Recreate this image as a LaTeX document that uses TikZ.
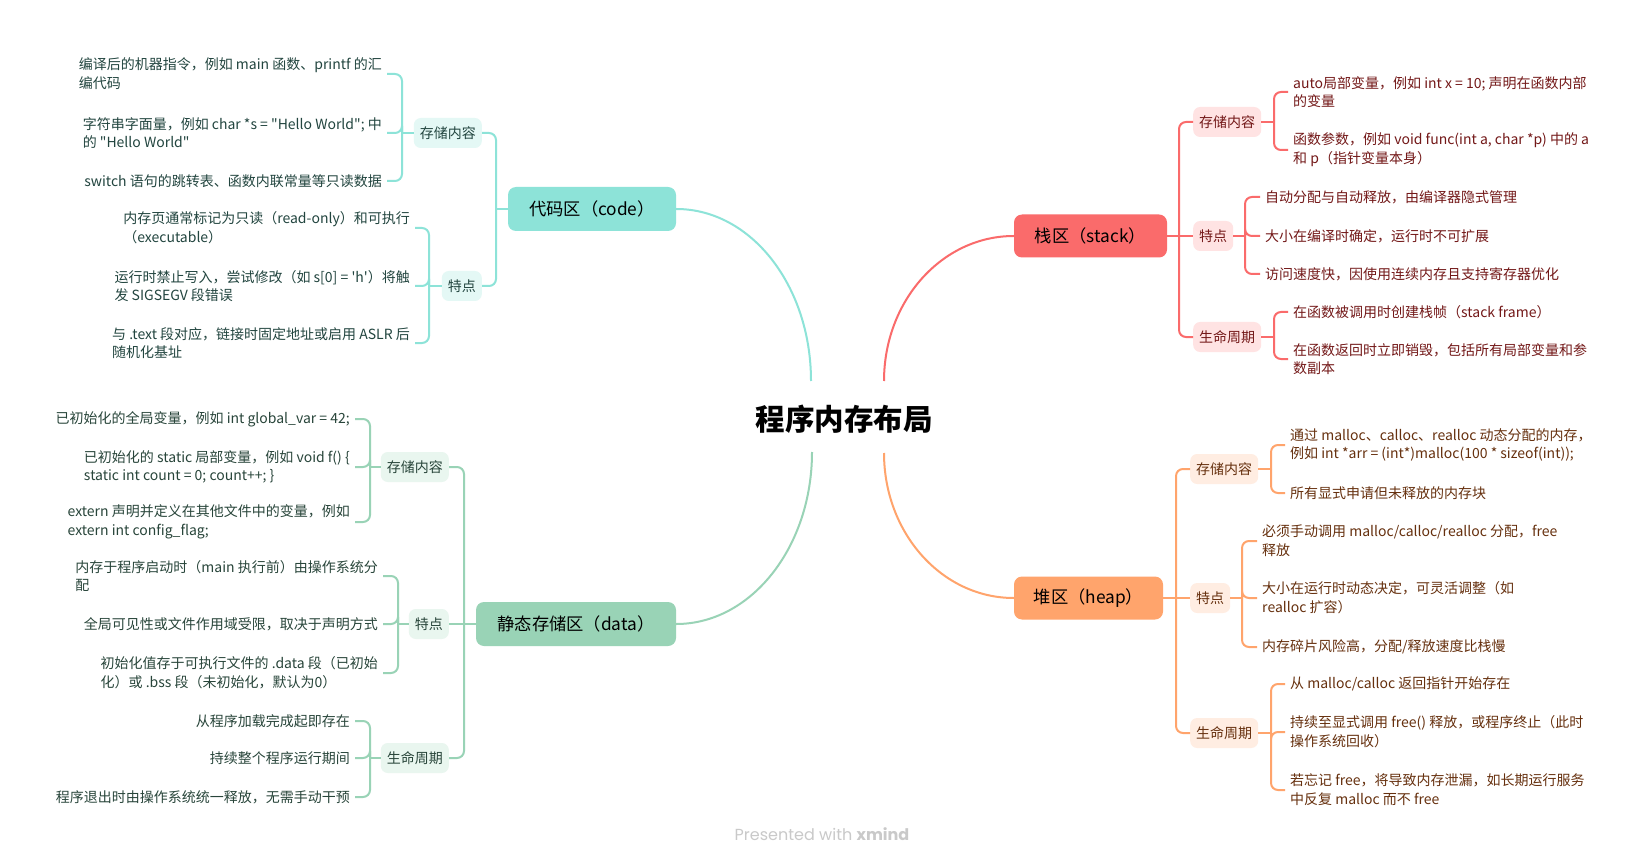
\documentclass[tikz,border=0pt]{standalone}
\usepackage{fontspec}
\newfontfamily\cjk{Noto Sans CJK SC}
\newfontfamily\wmfont{Poppins}
\definecolor{tealM}{HTML}{8DE3D8}
\definecolor{tealL}{HTML}{E4F8F5}
\definecolor{tealT}{HTML}{22453F}
\definecolor{grnM}{HTML}{99D3B6}
\definecolor{grnL}{HTML}{E9F6EF}
\definecolor{grnT}{HTML}{28453A}
\definecolor{redM}{HTML}{FA6B6B}
\definecolor{redL}{HTML}{FFE3E3}
\definecolor{redT}{HTML}{731818}
\definecolor{orgM}{HTML}{FFA46C}
\definecolor{orgL}{HTML}{FFEDE2}
\definecolor{orgT}{HTML}{66300E}
\definecolor{wmgray}{HTML}{C9C9C9}
\begin{document}
\begin{tikzpicture}[x=1pt,y=-1pt,
 conn/.style={draw=#1, line width=2pt},
 br/.style={draw=#1, line width=2pt, rounded corners=7pt},
 topic/.style={fill=#1, rounded corners=8pt, minimum height=44pt, inner sep=0pt, text=black, font=\fontsize{17.3}{20}\selectfont\cjk},
 sub/.style={fill=#1L, text=#1T, rounded corners=7pt, minimum height=30pt, inner xsep=6pt, inner ysep=0pt, font=\fontsize{14}{17}\selectfont\cjk},
 subL/.style={sub=#1, anchor=east},
 subR/.style={sub=#1, anchor=west},
 leaf/.style={text=#1T, align=left, inner xsep=5pt, inner ysep=1pt, font=\fontsize{14}{18.7}\selectfont\cjk},
 leafL/.style={leaf=#1, anchor=east},
 leafR/.style={leaf=#1, anchor=west},
]
\fill[white] (0,0) rectangle (1645,866);
\useasboundingbox (0,0) rectangle (1645,866);

% root
\node[font=\fontsize{29.5}{32}\selectfont\cjk\bfseries, text=black] (root) at (844,419) {程序内存布局};
\coordinate (rc1) at (811,381);
\coordinate (rc2) at (884,381);
\coordinate (rc3) at (812,452);
\coordinate (rc4) at (884,453);

% main topics
\node[topic=tealM, minimum width=168pt] (code) at (592,209) {代码区（code）};
\node[topic=grnM, minimum width=200pt] (data) at (576,624) {静态存储区（data）};
\node[topic=redM, minimum width=153pt, minimum height=43pt] (stack) at (1090.5,236) {栈区（stack）};
\node[topic=orgM, minimum width=149pt, minimum height=43pt] (heap) at (1088.5,598) {堆区（heap）};

\draw[conn=tealM] (code.east) .. controls +(75,0) and +(0,-95) .. (rc1);
\draw[conn=grnM] (data.east) .. controls +(75,0) and +(0,95) .. (rc3);
\draw[conn=redM] (stack.west) .. controls +(-72,0) and +(0,-80) .. (rc2);
\draw[conn=orgM] (heap.west) .. controls +(-72,0) and +(0,80) .. (rc4);

% ===== code branch =====
\coordinate (ct) at (496,209);
\coordinate (cb1) at (402,0);
\coordinate (cb2) at (429,0);
\node[subL=teal] (cs1) at (482,133) {存储内容};
\node[subL=teal] (cs2) at (482,286) {特点};
\node[leafL=teal] (cl11) at (387,74) {编译后的机器指令，例如 main 函数、printf 的汇\\编代码};
\node[leafL=teal] (cl12) at (387,133) {字符串字面量，例如 char *s = "Hello World"; 中\\的 "Hello World"};
\node[leafL=teal] (cl13) at (387,181) {switch 语句的跳转表、函数内联常量等只读数据};
\node[leafL=teal] (cl21) at (415,228) {内存页通常标记为只读（read-only）和可执行\\（executable）};
\node[leafL=teal] (cl22) at (415,286) {运行时禁止写入，尝试修改（如 s[0] = 'h'）将触\\发 SIGSEGV 段错误};
\node[leafL=teal] (cl23) at (415,343) {与 .text 段对应，链接时固定地址或启用 ASLR 后\\随机化基址};
\draw[conn=tealM] (code.west) -- (ct);
\draw[br=tealM] (ct) |- (cs1.east);
\draw[br=tealM] (ct) |- (cs2.east);
\draw[conn=tealM] (cs1.west) -- (cs1.west -| cb1);
\foreach \n in {cl11,cl12,cl13} \draw[br=tealM] (cs1.west -| cb1) |- (\n.east);
\draw[conn=tealM] (cs2.west) -- (cs2.west -| cb2);
\foreach \n in {cl21,cl22,cl23} \draw[br=tealM] (cs2.west -| cb2) |- (\n.east);

% ===== data branch =====
\coordinate (dt) at (464,624);
\coordinate (db1) at (370,0);
\coordinate (db2) at (398,0);
\node[subL=grn] (ds1) at (449,467) {存储内容};
\node[subL=grn] (ds2) at (449,624) {特点};
\node[subL=grn] (ds3) at (449,758) {生命周期};
\node[leafL=grn] (dl11) at (355,419) {已初始化的全局变量，例如 int global\_var = 42;};
\node[leafL=grn] (dl12) at (355,467) {已初始化的 static 局部变量，例如 void f() \{\\static int count = 0; count++; \}};
\node[leafL=grn] (dl13) at (355,522) {extern 声明并定义在其他文件中的变量，例如\\extern int config\_flag;};
\node[leafL=grn] (dl21) at (383,576) {内存于程序启动时（main 执行前）由操作系统分\\配};
\node[leafL=grn] (dl22) at (383,624) {全局可见性或文件作用域受限，取决于声明方式};
\node[leafL=grn] (dl23) at (383,673) {初始化值存于可执行文件的 .data 段（已初始\\化）或 .bss 段（未初始化，默认为0）};
\node[leafL=grn] (dl31) at (355,721) {从程序加载完成起即存在};
\node[leafL=grn] (dl32) at (355,758) {持续整个程序运行期间};
\node[leafL=grn] (dl33) at (355,797) {程序退出时由操作系统统一释放，无需手动干预};
\draw[conn=grnM] (data.west) -- (dt);
\draw[br=grnM] (dt) |- (ds1.east);
\draw[br=grnM] (dt) |- (ds3.east);
\draw[conn=grnM] (dt) -- (ds2.east);
\draw[conn=grnM] (ds1.west) -- (ds1.west -| db1);
\foreach \n in {dl11,dl12,dl13} \draw[br=grnM] (ds1.west -| db1) |- (\n.east);
\draw[conn=grnM] (ds2.west) -- (ds2.west -| db2);
\foreach \n in {dl21,dl22,dl23} \draw[br=grnM] (ds2.west -| db2) |- (\n.east);
\draw[conn=grnM] (ds3.west) -- (ds3.west -| db1);
\foreach \n in {dl31,dl32,dl33} \draw[br=grnM] (ds3.west -| db1) |- (\n.east);

% ===== stack branch =====
\coordinate (st) at (1179,236);
\coordinate (sb1) at (1274,0);
\coordinate (sb2) at (1245,0);
\node[subR=red] (ss1) at (1193,122) {存储内容};
\node[subR=red] (ss2) at (1193,236) {特点};
\node[subR=red] (ss3) at (1193,337) {生命周期};
\node[leafR=red] (sl11) at (1288,92) {auto局部变量，例如 int x = 10; 声明在函数内部\\的变量};
\node[leafR=red] (sl12) at (1288,150) {函数参数，例如 void func(int a, char *p) 中的 a\\和 p（指针变量本身）};
\node[leafR=red] (sl21) at (1260,197) {自动分配与自动释放，由编译器隐式管理};
\node[leafR=red] (sl22) at (1260,236) {大小在编译时确定，运行时不可扩展};
\node[leafR=red] (sl23) at (1260,274) {访问速度快，因使用连续内存且支持寄存器优化};
\node[leafR=red] (sl31) at (1288,312) {在函数被调用时创建栈帧（stack frame）};
\node[leafR=red] (sl32) at (1288,359) {在函数返回时立即销毁，包括所有局部变量和参\\数副本};
\draw[conn=redM] (stack.east) -- (st);
\draw[br=redM] (st) |- (ss1.west);
\draw[br=redM] (st) |- (ss3.west);
\draw[conn=redM] (st) -- (ss2.west);
\draw[conn=redM] (ss1.east) -- (ss1.east -| sb1);
\foreach \n in {sl11,sl12} \draw[br=redM] (ss1.east -| sb1) |- (\n.west);
\draw[conn=redM] (ss2.east) -- (ss2.east -| sb2);
\foreach \n in {sl21,sl22,sl23} \draw[br=redM] (ss2.east -| sb2) |- (\n.west);
\draw[conn=redM] (ss3.east) -- (ss3.east -| sb1);
\foreach \n in {sl31,sl32} \draw[br=redM] (ss3.east -| sb1) |- (\n.west);

% ===== heap branch =====
\coordinate (ht) at (1176,598);
\coordinate (hb1) at (1271,0);
\coordinate (hb2) at (1242,0);
\node[subR=org] (hs1) at (1190,469) {存储内容};
\node[subR=org] (hs2) at (1190,598) {特点};
\node[subR=org] (hs3) at (1190,733) {生命周期};
\node[leafR=org] (hl11) at (1285,445) {通过 malloc、calloc、realloc 动态分配的内存，\\例如 int *arr = (int*)malloc(100 * sizeof(int));};
\node[leafR=org] (hl12) at (1285,493) {所有显式申请但未释放的内存块};
\node[leafR=org] (hl21) at (1257,541) {必须手动调用 malloc/calloc/realloc 分配，free\\释放};
\node[leafR=org] (hl22) at (1257,598) {大小在运行时动态决定，可灵活调整（如\\realloc 扩容）};
\node[leafR=org] (hl23) at (1257,647) {内存碎片风险高，分配/释放速度比栈慢};
\node[leafR=org] (hl31) at (1285,684) {从 malloc/calloc 返回指针开始存在};
\node[leafR=org] (hl32) at (1285,732) {持续至显式调用 free() 释放，或程序终止（此时\\操作系统回收）};
\node[leafR=org] (hl33) at (1285,790) {若忘记 free，将导致内存泄漏，如长期运行服务\\中反复 malloc 而不 free};
\draw[conn=orgM] (heap.east) -- (ht);
\draw[br=orgM] (ht) |- (hs1.west);
\draw[br=orgM] (ht) |- (hs3.west);
\draw[conn=orgM] (ht) -- (hs2.west);
\draw[conn=orgM] (hs1.east) -- (hs1.east -| hb1);
\foreach \n in {hl11,hl12} \draw[br=orgM] (hs1.east -| hb1) |- (\n.west);
\draw[conn=orgM] (hs2.east) -- (hs2.east -| hb2);
\foreach \n in {hl21,hl22,hl23} \draw[br=orgM] (hs2.east -| hb2) |- (\n.west);
\draw[conn=orgM] (hs3.east) -- (hs3.east -| hb1);
\foreach \n in {hl31,hl32,hl33} \draw[br=orgM] (hs3.east -| hb1) |- (\n.west);

% watermark
\node[font=\fontsize{16}{18}\selectfont\wmfont, text=wmgray] (wm) at (822,834) {Presented with \textbf{xmind}};
\end{tikzpicture}
\end{document}
